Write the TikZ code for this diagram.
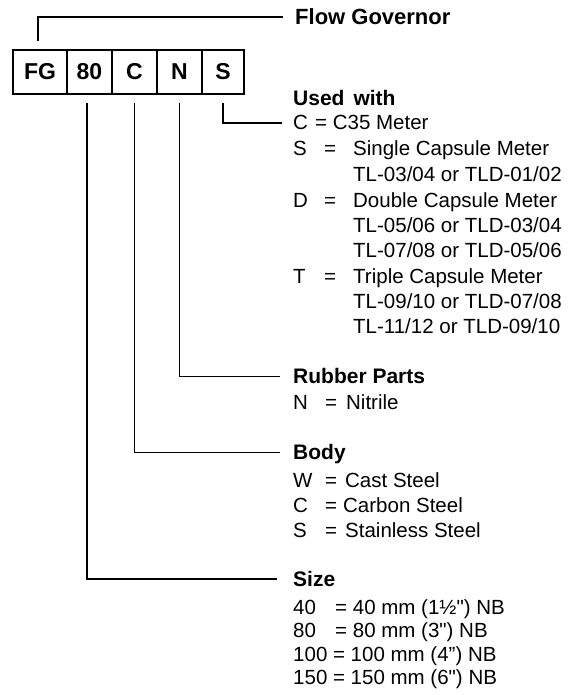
\documentclass[tikz,border=0pt]{standalone}
\usepackage{fontspec}
\newfontfamily\legendfont{Liberation Sans}
\begin{document}
\begin{tikzpicture}[x=1pt, y=-1pt,
  codebox/.style={draw, line width=2.1pt, inner sep=0pt, minimum height=44pt, font=\legendfont\fontsize{23}{23}\bfseries},
  lead/.style={line width=1.1pt},
  head/.style={anchor=west, inner sep=0pt, text height=14.5pt, text depth=0pt, font=\legendfont\fontsize{21}{24}\bfseries},
  item/.style={anchor=base west, inner sep=0pt, font=\legendfont\fontsize{20.5}{24}\selectfont}]
  \useasboundingbox (0,0) rectangle (574,695);
  % code boxes
  \node[codebox, minimum width=54pt] (FG) at (40,72) {FG};
  \node[codebox, minimum width=45pt] (B80) at (89.5,72) {80};
  \node[codebox, minimum width=45pt] (BC) at (134.5,72) {C};
  \node[codebox, minimum width=45pt] (BN) at (179.5,72) {N};
  \node[codebox, minimum width=42pt] (BS) at (223,72) {S};
  % headings
  \node[head, font=\legendfont\fontsize{22}{24}\bfseries] (flow) at (295,17) {Flow Governor};
  \node[head] (used) at (293,98) {Used\hspace{0.15em} with};
  \node[head] (rubber) at (293,376.5) {Rubber Parts};
  \node[head] (body) at (293,452.5) {Body};
  \node[head] (size) at (293,579) {Size};
  % used with
  \node[item] (meterC) at (293,130) {\makebox[22pt][l]{C}= C35 Meter};
  \node[item] (meterS) at (293,156) {\makebox[31pt][l]{S}\makebox[29pt][l]{=}Single Capsule Meter};
  \node[item] (tlS) at (353,181) {TL-03/04 or TLD-01/02};
  \node[item] (meterD) at (293,207) {\makebox[31pt][l]{D}\makebox[29pt][l]{=}Double Capsule Meter};
  \node[item] (tlDa) at (353,232) {TL-05/06 or TLD-03/04};
  \node[item] (tlDb) at (353,257) {TL-07/08 or TLD-05/06};
  \node[item] (meterT) at (293,283) {\makebox[31pt][l]{T}\makebox[29pt][l]{=}Triple Capsule Meter};
  \node[item] (tlTa) at (353,308) {TL-09/10 or TLD-07/08};
  \node[item] (tlTb) at (353,333) {TL-11/12 or TLD-09/10};
  % rubber parts
  \node[item] (nitrile) at (293,409) {\makebox[32pt][l]{N}\makebox[21pt][l]{=}Nitrile};
  % body
  \node[item] (cast) at (293,487) {\makebox[32pt][l]{W}\makebox[20pt][l]{=}Cast Steel};
  \node[item] (carbon) at (293,512) {\makebox[32pt][l]{C}\makebox[18pt][l]{=}Carbon Steel};
  \node[item] (stainless) at (293,537) {\makebox[32pt][l]{S}\makebox[20pt][l]{=}Stainless Steel};
  % size
  \node[item] (s40) at (293,614) {\makebox[42pt][l]{40}= 40 mm (1½") NB};
  \node[item] (s80) at (293,637) {\makebox[42pt][l]{80}= 80 mm (3") NB};
  \node[item] (s100) at (293,661) {100 = 100 mm (4”) NB};
  \node[item] (s150) at (293,684) {150 = 150 mm (6") NB};
  % leaders
  \draw[lead] ([xshift=-2pt,yshift=8pt]FG.north) |- ([xshift=-12pt]flow.west);
  \draw[lead] ([yshift=-8pt]BS.south) |- ([xshift=-11pt,yshift=7pt]meterC.base west);
  \draw[lead] ([yshift=-8pt]BN.south) |- ([xshift=-13pt]rubber.west);
  \draw[lead] ([yshift=-8pt]BC.south) |- ([xshift=-13pt]body.west);
  \draw[lead] ([xshift=-2.5pt,yshift=-8pt]B80.south) |- ([xshift=-16pt]size.west);
\end{tikzpicture}
\end{document}
